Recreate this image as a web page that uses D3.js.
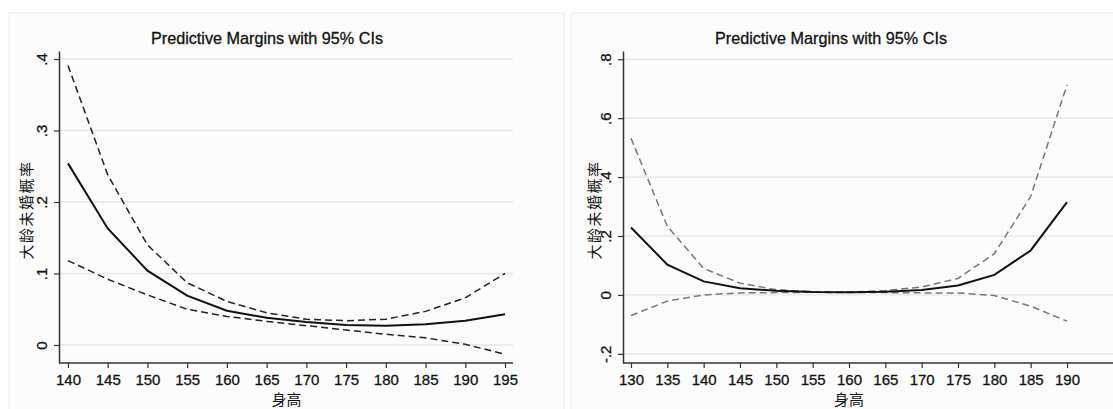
<!DOCTYPE html>
<html>
<head>
<meta charset="utf-8">
<script src="https://cdn.jsdelivr.net/npm/d3@7"></script>
<style>
  body { margin: 0; background: #ffffff; }
  svg { display: block; }
</style>
</head>
<body>
<div id="graf"></div>
<script>
// Predictive margins, dos paneles (estilo Stata)

// datos panel izquierdo
alturas1   = [140, 145, 150, 155, 160, 165, 170, 175, 180, 185, 190, 195]
margen1    = [0.254, 0.163, 0.104, 0.069, 0.048, 0.038, 0.032, 0.028, 0.027, 0.029, 0.034, 0.043]
superior1  = [0.391, 0.238, 0.140, 0.087, 0.061, 0.045, 0.036, 0.034, 0.036, 0.047, 0.066, 0.100]
inferior1  = [0.118, 0.092, 0.070, 0.050, 0.040, 0.033, 0.027, 0.021, 0.015, 0.010, 0.001, -0.013]
yticks1    = [0, 0.1, 0.2, 0.3, 0.4]
ylabels1   = ['0', '.1', '.2', '.3', '.4']

// datos panel derecho
alturas2   = [130, 135, 140, 145, 150, 155, 160, 165, 170, 175, 180, 185, 190]
margen2    = [0.229, 0.103, 0.046, 0.023, 0.014, 0.010, 0.009, 0.011, 0.017, 0.032, 0.068, 0.151, 0.315]
superior2  = [0.532, 0.233, 0.090, 0.040, 0.018, 0.011, 0.010, 0.015, 0.027, 0.056, 0.140, 0.334, 0.713]
inferior2  = [-0.070, -0.021, 0.000, 0.007, 0.008, 0.009, 0.008, 0.008, 0.007, 0.007, -0.002, -0.038, -0.089]
yticks2    = [-0.2, 0, 0.2, 0.4, 0.6, 0.8]
ylabels2   = ['-.2', '0', '.2', '.4', '.6', '.8']

titulo  = 'Predictive Margins with 95% CIs'
ytitulo = '大龄未婚概率'
xtitulo = '身高'

ancho_total = 1113
alto_total  = 409

svg = d3.select('#graf').append('svg')
        .attr('width', ancho_total)
        .attr('height', alto_total)
        .style('font-family', '"Liberation Sans", Arial, sans-serif')

// marco de cada grafico
svg.append('rect')
  .attr('x', 9).attr('y', 13)
  .attr('width', 555).attr('height', 420)
  .attr('fill', '#fcfcfc')
  .attr('stroke', '#ececec')
svg.append('rect')
  .attr('x', 571).attr('y', 13)
  .attr('width', 560).attr('height', 420)
  .attr('fill', '#fcfcfc')
  .attr('stroke', '#ececec')

function panel(cfg) {
  g = svg.append('g')

  x = d3.scaleLinear().domain(cfg.xdom).range([cfg.x0, cfg.x1])
  y = d3.scaleLinear().domain(cfg.ydom).range([363, 51])

  // lineas de grilla
  g.selectAll('.grid')
    .data(cfg.yticks)
    .enter().append('line')
      .attr('x1', cfg.x0)
      .attr('x2', cfg.gx)
      .attr('y1', d => y(d))
      .attr('y2', d => y(d))
      .attr('stroke', '#e6e6e6')
      .attr('stroke-width', 1.3)

  // eje y
  yAxis = d3.axisLeft(y)
            .tickValues(cfg.yticks)
            .tickSize(5)
            .tickSizeOuter(0)
            .tickFormat((d, i) => cfg.ylabels[i])
  ya = g.append('g')
    .attr('transform', `translate(${cfg.x0},0)`)
    .call(yAxis)
  ya.select('.domain').attr('stroke', '#333').attr('stroke-width', 1.5)
  ya.selectAll('.tick line').attr('stroke', '#333').attr('stroke-width', 1.2)
  ya.selectAll('.tick text')
    .attr('fill', '#111')
    .attr('stroke', '#111')
    .attr('stroke-width', 0.3)
    .attr('font-size', 15)
    .attr('x', 0).attr('dy', 0)
    .attr('text-anchor', 'middle')
    .attr('transform', `translate(${-12},0) rotate(-90)`)

  // eje x
  xAxis = d3.axisBottom(x)
            .tickValues(cfg.xs)
            .tickSize(5)
            .tickSizeOuter(0)
            .tickFormat(d3.format('d'))
  xa = g.append('g')
    .attr('transform', 'translate(0,363)')
    .call(xAxis)
  xa.select('.domain').attr('stroke', '#333').attr('stroke-width', 1.5)
    .attr('d', `M${cfg.x0},0H${cfg.gx}`)
  xa.selectAll('.tick line').attr('stroke', '#333').attr('stroke-width', 1.2)
  xa.selectAll('.tick text')
    .attr('fill', '#111')
    .attr('stroke', '#111')
    .attr('stroke-width', 0.3)
    .attr('font-size', 15)
    .attr('y', 11)

  linea = d3.line()
            .x((d, i) => x(cfg.xs[i]))
            .y(d => y(d))

  // intervalos de confianza
  g.append('path')
    .attr('d', linea(cfg.sup))
    .attr('fill', 'none')
    .attr('stroke', cfg.dash)
    .attr('stroke-width', 1.5)
    .attr('stroke-dasharray', '7,4')
  g.append('path')
    .attr('d', linea(cfg.inf))
    .attr('fill', 'none')
    .attr('stroke', cfg.dash)
    .attr('stroke-width', 1.5)
    .attr('stroke-dasharray', '7,4')

  // margen estimado
  g.append('path')
    .attr('d', linea(cfg.mar))
    .attr('fill', 'none')
    .attr('stroke', '#111')
    .attr('stroke-width', 2)

  // titulos
  g.append('text')
    .attr('x', cfg.tx)
    .attr('y', 44)
    .attr('text-anchor', 'middle')
    .attr('font-size', 16.2)
    .attr('fill', '#111')
    .attr('stroke', '#111')
    .attr('stroke-width', 0.3)
    .text(titulo)
  g.append('text')
    .attr('transform', `translate(${cfg.yt},210) rotate(-90)`)
    .attr('text-anchor', 'middle')
    .attr('dy', '0.35em')
    .attr('font-family', '"Noto Sans CJK SC", sans-serif')
    .attr('font-size', 15)
    .attr('letter-spacing', 1.5)
    .attr('fill', '#111')
    .text(ytitulo)
  g.append('text')
    .attr('x', (x(cfg.xs[0]) + x(cfg.xs[cfg.xs.length - 1])) / 2)
    .attr('y', 405)
    .attr('text-anchor', 'middle')
    .attr('font-family', '"Noto Sans CJK SC", sans-serif')
    .attr('font-size', 15)
    .attr('fill', '#111')
    .text(xtitulo)
}

panel({
  xs: alturas1, mar: margen1, sup: superior1, inf: inferior1,
  yticks: yticks1, ylabels: ylabels1,
  xdom: [138.87, 195], x0: 59, x1: 505, gx: 513,
  ydom: [-0.0252, 0.4112],
  dash: '#222', tx: 267, yt: 27
})

panel({
  xs: alturas2, mar: margen2, sup: superior2, inf: inferior2,
  yticks: yticks2, ylabels: ylabels2,
  xdom: [128.9, 190], x0: 623, x1: 1067, gx: 1113,
  ydom: [-0.231, 0.828],
  dash: '#777', tx: 831, yt: 595
})
</script>
</body>
</html>
